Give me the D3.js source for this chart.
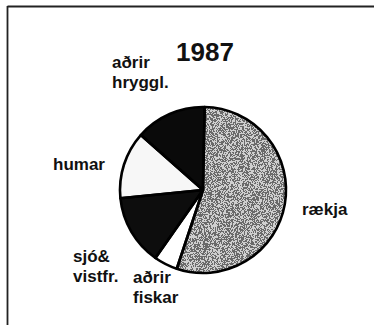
<!DOCTYPE html>
<html>
<head>
<meta charset="utf-8">
<script src="https://cdn.jsdelivr.net/npm/d3@7"></script>
<style>
  html, body { margin: 0; padding: 0; background: #fff; }
  svg { display: block; }
  text { font-family: "Liberation Sans", Arial, Helvetica, sans-serif; fill: #111; }
</style>
</head>
<body>
<svg id="chart" width="374" height="325"></svg>
<script>
// Share of catch by category, 1987 (percent), clockwise from 12 o'clock
const categories = ["rækja", "aðrir fiskar", "sjó& vistfr.", "humar", "aðrir hryggl."];
const shares = [54.8, 4.6, 13.7, 13.1, 13.8];
const title = "1987";

// Label lines for each category
const labelLines = [["rækja"], ["aðrir", "fiskar"], ["sjó&", "vistfr."], ["humar"], ["aðrir", "hryggl."]];
// Label anchor points (first baseline)
const labelPos = [[302, 215], [133, 283], [73, 262], [53, 170], [112, 68]];

const svg = d3.select("#chart");
const W = 374, H = 325;
const cx = 203, cy = 190, r = 83;

// Stipple textures built from fine noise
const defs = svg.append("defs");
function stipple(id, base, dot, freq, seed, cut) {
  const f = defs.append("filter").attr("id", id)
    .attr("x", 0).attr("y", 0).attr("width", 1).attr("height", 1);
  f.append("feTurbulence").attr("type", "fractalNoise")
    .attr("baseFrequency", freq).attr("numOctaves", 1).attr("seed", seed).attr("result", "n");
  f.append("feColorMatrix").attr("in", "n").attr("type", "matrix")
    .attr("values", "0 0 0 0 0  0 0 0 0 0  0 0 0 0 0  1 0 0 0 0").attr("result", "a");
  const ct = f.append("feComponentTransfer").attr("in", "a").attr("result", "m");
  ct.append("feFuncA").attr("type", "discrete").attr("tableValues", cut);
  f.append("feFlood").attr("flood-color", dot).attr("result", "dc");
  f.append("feComposite").attr("in", "dc").attr("in2", "m").attr("operator", "in").attr("result", "dots");
  f.append("feFlood").attr("flood-color", base).attr("result", "bc");
  f.append("feMerge").call(m => {
    m.append("feMergeNode").attr("in", "bc");
    m.append("feMergeNode").attr("in", "dots");
  }).attr("result", "tex");
  f.append("feComposite").attr("in", "tex").attr("in2", "SourceGraphic").attr("operator", "in");
}
stipple("grayTex", "#cfcfcf", "#6a6a6a", 1.6, 5, "0 0 0 0 0 1 1 1 1 1");
stipple("lightTex", "#f7f7f7", "#a0a0a0", 1.4, 8, "0 0 0 0 0 0 0 0 0 0 0 1");
stipple("darkTex", "#080808", "#3c3c3c", 1.4, 11, "0 0 0 0 0 0 0 0 0 0 0 0 0 1");

// Frame lines (top and left)
svg.append("line").attr("x1", 7.5).attr("y1", 6.5).attr("x2", W).attr("y2", 6.5)
  .attr("stroke", "#222").attr("stroke-width", 1.8);
svg.append("line").attr("x1", 7.5).attr("y1", 6).attr("x2", 7.5).attr("y2", H)
  .attr("stroke", "#222").attr("stroke-width", 1.8);

const pie = d3.pie().sort(null).value(d => d).startAngle(0.02).endAngle(0.02 + 2 * Math.PI);
const arcs = pie(shares);
const arc = d3.arc().innerRadius(0).outerRadius(r);

const g = svg.append("g").attr("transform", `translate(${cx},${cy})`);

const baseFill = ["#000", "#ffffff", "#000", "#000", "#0a0a0a"];
const filt = ["url(#grayTex)", null, "url(#darkTex)", "url(#lightTex)", null];

g.selectAll("path.fill").data(arcs).join("path")
  .attr("class", "fill")
  .attr("d", arc)
  .attr("fill", (d, i) => baseFill[i])
  .attr("filter", (d, i) => filt[i]);

g.selectAll("path.edge").data(arcs).join("path")
  .attr("class", "edge")
  .attr("d", arc)
  .attr("fill", "none")
  .attr("stroke", "#000")
  .attr("stroke-width", 2.6)
  .attr("stroke-linejoin", "round");

// Title
svg.append("text").attr("x", 176).attr("y", 61)
  .attr("font-size", 26).attr("font-weight", "bold").text(title);

// Category labels
categories.forEach((c, i) => {
  const t = svg.append("text")
    .attr("x", labelPos[i][0]).attr("y", labelPos[i][1])
    .attr("font-size", 17).attr("font-weight", "bold");
  labelLines[i].forEach((ln, k) => {
    t.append("tspan").attr("x", labelPos[i][0]).attr("dy", k === 0 ? 0 : 20).text(ln);
  });
});
</script>
</body>
</html>
